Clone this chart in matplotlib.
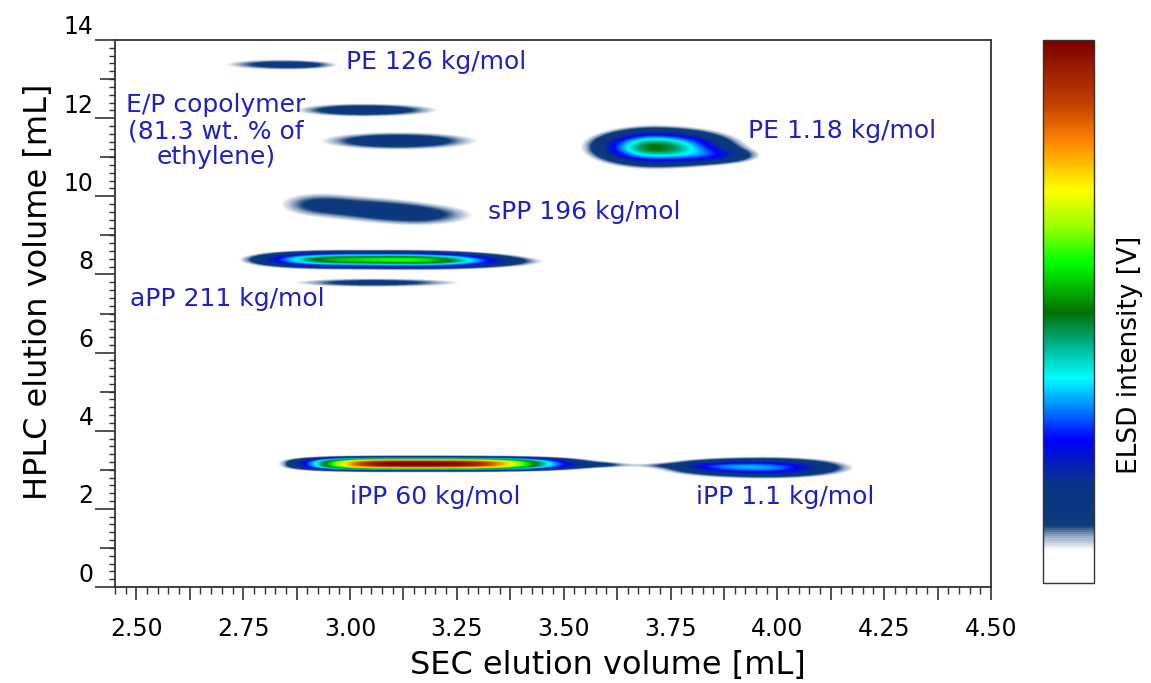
import numpy as np
import matplotlib
matplotlib.use("Agg")
import matplotlib.pyplot as plt
from matplotlib.colors import LinearSegmentedColormap
from matplotlib.ticker import MultipleLocator, FuncFormatter
from matplotlib.transforms import ScaledTranslation

# peaks (SEC volume x, HPLC volume y)
peak_name = ["PE126", "PE126 tail", "EP a", "EP b", "sPP a", "sPP b", "sPP c",
             "aPP", "aPP right", "aPP low", "PE1.18", "PE1.18 tail",
             "iPP60", "iPP60 tail", "bridge", "iPP1.1", "iPP1.1 left"]
peak_x = [2.808, 2.895, 3.028, 3.110, 2.915, 3.058, 3.187,
          3.035, 3.260, 3.051, 3.714, 3.866,
          3.154, 3.590, 3.714, 3.974, 3.850]
peak_y = [13.38, 13.36, 12.21, 11.42, 9.80, 9.66, 9.52,
          8.38, 8.33, 7.79, 11.26, 11.03,
          3.15, 3.13, 3.11, 3.05, 3.10]
peak_sxl = [0.094, 0.065, 0.112, 0.129, 0.075, 0.082, 0.082,
            0.180, 0.126, 0.147, 0.085, 0.063,
            0.194, 0.080, 0.060, 0.138, 0.060]
peak_sxr = [0.105, 0.065, 0.129, 0.136, 0.077, 0.082, 0.098,
            0.210, 0.136, 0.168, 0.105, 0.063,
            0.253, 0.045, 0.060, 0.115, 0.084]
peak_sy = [0.11, 0.08, 0.123, 0.165, 0.26, 0.26, 0.23,
           0.125, 0.11, 0.09, 0.28, 0.13,
           0.12, 0.06, 0.05, 0.16, 0.09]
peak_amp = [0.105, 0.06, 0.16, 0.16, 0.10, 0.10, 0.10,
            0.56, 0.14, 0.13, 0.50, 0.12,
            1.0, 0.08, 0.04, 0.31, 0.09]
peak_powx = [2, 2, 2, 2, 2, 2, 2,
             3, 2, 2, 2, 2,
             3.4, 2, 2, 2, 2]
peak_powy = [2, 2, 2, 2, 2, 2, 2,
             2, 2, 2, 2, 2,
             2.9, 2, 2, 2, 2]

labels = ["PE 126 kg/mol", "E/P copolymer\n(81.3 wt. % of\nethylene)", "sPP 196 kg/mol",
          "aPP 211 kg/mol", "PE 1.18 kg/mol", "iPP 60 kg/mol", "iPP 1.1 kg/mol"]
label_x = [2.991, 2.686, 3.323, 2.485, 3.931, 3.000, 3.810]
label_y = [13.44, 11.67, 9.59, 7.36, 11.67, 2.31, 2.31]
label_ha = ["left", "center", "left", "left", "left", "left", "left"]

cmap_pos = [0.0, 0.06, 0.085, 0.105, 0.18, 0.264, 0.32, 0.377, 0.44, 0.498,
            0.591, 0.66, 0.725, 0.818, 0.885, 1.0]
cmap_col = ["#ffffff", "#ffffff", "#8fa5c0", "#0d3b7a", "#0a3585", "#0000ff", "#0080ff",
            "#00ffff", "#00b08a", "#007000", "#00ff00", "#a0ff00", "#ffff00",
            "#ff8000", "#c04000", "#7a0000"]
elsd = LinearSegmentedColormap.from_list("elsd", list(zip(cmap_pos, cmap_col)))

xmin, xmax = 2.45, 4.5
ymin, ymax = 0, 14
xs = np.linspace(xmin, xmax, 1000)
ys = np.linspace(ymin, ymax, 1400)
X, Y = np.meshgrid(xs, ys)
Z = np.zeros_like(X)
for i in range(len(peak_x)):
    dx = X - peak_x[i]
    sx = np.where(dx < 0, peak_sxl[i], peak_sxr[i])
    Z += peak_amp[i] * np.exp(-0.5 * np.abs(dx / sx) ** peak_powx[i]) \
        * np.exp(-0.5 * np.abs((Y - peak_y[i]) / peak_sy[i]) ** peak_powy[i])
Z = np.clip(Z, 0, 1)

fig = plt.figure(figsize=(11.51, 6.83), dpi=100)
ax = fig.add_axes([115 / 1151, 96 / 683, 876 / 1151, 547 / 683])
cax = fig.add_axes([1043 / 1151, 100 / 683, 51 / 1151, 543 / 683])

im = ax.imshow(Z, extent=[xmin, xmax, ymin, ymax], origin="lower", aspect="auto",
               cmap=elsd, vmin=0, vmax=1, interpolation="bilinear")
ax.set_xlim(xmin, xmax)
ax.set_ylim(ymin, ymax)

for i in range(len(labels)):
    ax.text(label_x[i], label_y[i], labels[i], ha=label_ha[i], va="center",
            multialignment="center", fontsize=18, color="#2020c0", linespacing=1.1)

for s in ax.spines.values():
    s.set_color("#333333")
    s.set_linewidth(1.3)

# y axis: labels every 2, extra ticks on odd values, minor every 0.2
ax.yaxis.set_major_locator(MultipleLocator(2))
ax.yaxis.set_minor_locator(MultipleLocator(0.2))
ax.tick_params(axis="y", which="major", length=14.5, width=1.2, pad=1, labelsize=17,
               color="#333333")
ax.tick_params(axis="y", which="minor", length=4.3, width=1, color="#333333")
off = ScaledTranslation(0, 0.15, fig.dpi_scale_trans)
for t in ax.get_yticklabels():
    t.set_transform(t.get_transform() + off)
sec = ax.secondary_yaxis("left")
sec.yaxis.set_major_locator(MultipleLocator(2, offset=1))
sec.tick_params(axis="y", length=10.8, width=1.2, labelleft=False, color="#333333")
sec.spines["left"].set_visible(False)

# x axis: long ticks every 0.125, labels every 0.25
ax.xaxis.set_major_locator(MultipleLocator(0.125))
ax.xaxis.set_minor_locator(MultipleLocator(0.025))
ax.xaxis.set_major_formatter(FuncFormatter(
    lambda v, pos: f"{v:.2f}" if abs(v * 4 - round(v * 4)) < 1e-6 else ""))
ax.tick_params(axis="x", which="major", length=9.4, width=1.2, pad=12, labelsize=17,
               color="#333333")
ax.tick_params(axis="x", which="minor", length=5, width=1, color="#333333")

ax.set_xlabel("SEC elution volume [mL]", fontsize=23)
ax.set_ylabel("HPLC elution volume [mL]", fontsize=23)
ax.xaxis.set_label_coords(0.563, -0.115)
ax.yaxis.set_label_coords(-0.07, 0.54)

cb = fig.colorbar(im, cax=cax)
cb.set_ticks([])
cb.outline.set_edgecolor("#333333")
cb.outline.set_linewidth(1)
cax.set_ylabel("ELSD intensity [V]", fontsize=19)
cax.yaxis.set_label_coords(1.45, 0.42)

fig.savefig("out.png", dpi=100)
